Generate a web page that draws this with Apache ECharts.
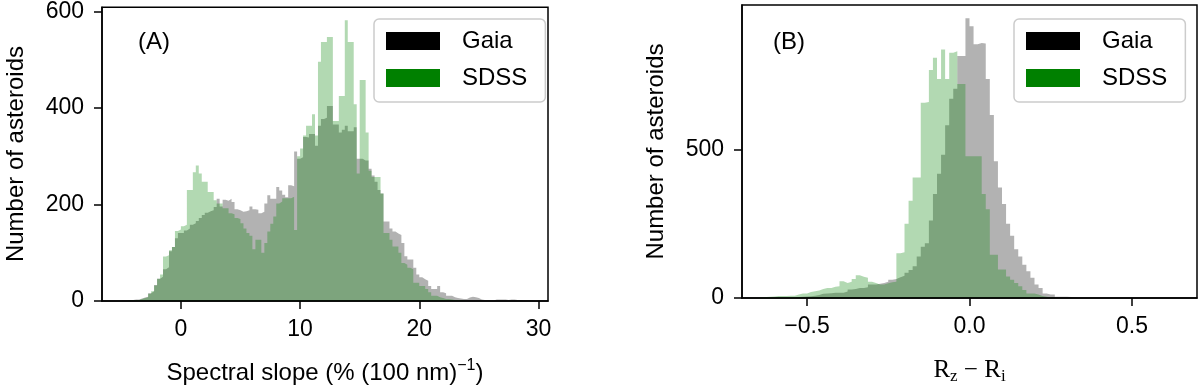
<!DOCTYPE html>
<html>
<head>
<meta charset="utf-8">
<script src="https://cdn.jsdelivr.net/npm/echarts@6/dist/echarts.min.js"></script>
<style>
  html, body { margin: 0; padding: 0; background: #fff; }
  #chart { width: 1200px; height: 390px; }
</style>
</head>
<body>
<div id="chart"></div>
<script>
// (A) spectral slope histograms, bins of 0.25 starting at -5
const slopeStart = -5;
const slopeWidth = 0.25;
const slopeGaia = [
  1, 1, 2, 2, 3, 3, 5, 7, 9, 16,
  20, 33, 46, 50, 66, 70, 103, 112, 130, 141,
  141, 146, 150, 158, 161, 166, 172, 178, 183, 186,
  188, 195, 212, 196, 210, 208, 212, 205, 190, 188,
  185, 186, 188, 196, 190, 189, 182, 185, 202, 219,
  212, 212, 236, 229, 220, 215, 240, 238, 310, 295,
  298, 340, 339, 346, 346, 322, 363, 377, 380, 404,
  404, 366, 366, 349, 355, 363, 352, 352, 360, 295,
  295, 291, 291, 274, 260, 247, 230, 223, 165, 165,
  150, 144, 140, 137, 120, 93, 86, 86, 69, 55,
  49, 45, 42, 31, 25, 25, 31, 18, 16, 11,
  11, 8, 6, 5, 4, 4, 7, 9, 8, 6,
  3, 2, 2, 1, 1, 3, 3, 3, 3, 2,
  3, 3, 2, 2, 1, 1, 1, 1, 0, 0
];
const slopeSdss = [
  0, 0, 1, 1, 2, 2, 4, 6, 8, 15,
  20, 32, 46, 55, 92, 95, 105, 112, 145, 148,
  155, 158, 230, 230, 267, 281, 264, 247, 247, 226,
  226, 209, 202, 202, 192, 192, 182, 180, 172, 170,
  161, 150, 141, 135, 107, 127, 127, 100, 120, 144,
  160, 175, 202, 206, 213, 213, 213, 216, 147, 300,
  316, 343, 363, 363, 387, 343, 496, 537, 537, 547,
  547, 373, 373, 425, 425, 582, 537, 537, 408, 264,
  458, 458, 349, 270, 257, 257, 257, 223, 141, 141,
  127, 113, 113, 100, 79, 75, 69, 66, 38, 38,
  31, 31, 25, 18, 11, 11, 8, 6, 4, 4,
  3, 2, 2, 1, 1, 0, 0, 0, 0, 0,
  0, 0, 0, 0, 0, 0, 0, 0, 0, 0,
  0, 0, 0, 0, 0, 0, 0, 0, 0, 0
];
const slopeTicks = [0, 10, 20, 30];
const slopeCountTicks = [0, 200, 400, 600];

// (B) Rz - Ri histograms, bins of 0.0125 starting at -0.65
const colorStart = -0.65;
const colorWidth = 0.0125;
const colorGaia = [
  0, 0, 0, 0, 1, 1, 1, 1, 2, 3,
  4, 5, 6, 8, 10, 14, 15, 16, 18, 18,
  18, 22, 29, 30, 34, 34, 36, 46, 46, 48,
  51, 55, 62, 64, 70, 75, 85, 95, 107, 140,
  173, 185, 262, 351, 420, 484, 584, 673, 707, 818,
  818, 945, 918, 857, 862, 860, 740, 618, 462, 373,
  318, 251, 210, 165, 140, 112, 90, 68, 46, 34,
  15, 12, 12, 4, 4, 4, 3, 2, 1, 0
];
const colorSdss = [
  1, 3, 4, 5, 7, 7, 7, 8, 8, 12,
  15, 15, 20, 23, 25, 30, 34, 34, 38, 40,
  57, 51, 55, 64, 77, 72, 68, 55, 51, 46,
  46, 50, 53, 55, 151, 155, 251, 329, 407, 407,
  660, 662, 770, 812, 740, 840, 740, 829, 834, 723,
  723, 479, 479, 479, 479, 351, 300, 146, 146, 96,
  96, 73, 62, 51, 40, 27, 15, 15, 12, 7,
  4, 2, 1, 0, 0, 0, 0, 0, 0, 0
];
const colorTicks = [-0.5, 0, 0.5];
const colorCountTicks = [0, 500];

const FONT = 'Liberation Sans';

// step outline points: left bin edge + count, closed at the last right edge
function steps(start, width, counts) {
  const pts = counts.map((c, i) => [start + i * width, c]);
  pts.push([start + counts.length * width, 0]);
  return pts;
}

function hist(name, data, idx, color) {
  return {
    type: 'line',
    name: name,
    xAxisIndex: idx,
    yAxisIndex: idx,
    data: data,
    step: 'end',
    symbol: 'none',
    silent: true,
    lineStyle: { width: 0, opacity: 0 },
    itemStyle: { color: color },
    areaStyle: { color: color, opacity: 0.3 }
  };
}

function xAxis(idx, min, max, ticks, fmt, name, rich) {
  return {
    type: 'value', gridIndex: idx, min: min, max: max, z: 5,
    axisLine: { show: true, onZero: false, lineStyle: { color: '#000', width: 1.5 } },
    axisTick: { show: true, length: 8, customValues: ticks, lineStyle: { color: '#000', width: 1.5 } },
    axisLabel: { customValues: ticks, formatter: fmt, margin: 17, color: '#000', fontFamily: FONT, fontSize: 23 },
    splitLine: { show: false },
    name: name, nameLocation: 'middle', nameGap: 57,
    nameTextStyle: { rich: rich }
  };
}

function yAxis(idx, max, ticks) {
  return {
    type: 'value', gridIndex: idx, min: 0, max: max, z: 5,
    axisLine: { show: true, onZero: false, lineStyle: { color: '#000', width: 1.5 } },
    axisTick: { show: true, length: 8, customValues: ticks, lineStyle: { color: '#000', width: 1.5 } },
    axisLabel: { customValues: ticks, margin: 18, color: '#000', fontFamily: FONT, fontSize: 23 },
    splitLine: { show: false },
    name: 'Number of asteroids', nameLocation: 'middle', nameGap: 74,
    nameTextStyle: { color: '#000', fontFamily: FONT, fontSize: 24 }
  };
}

function legend(left) {
  return {
    left: left, top: 19, orient: 'vertical', selectedMode: false,
    data: [
      { name: 'Gaia', icon: 'rect', itemStyle: { color: '#000', opacity: 1 } },
      { name: 'SDSS', icon: 'rect', itemStyle: { color: '#008000', opacity: 1 } }
    ],
    itemWidth: 54, itemHeight: 18, itemGap: 13,
    padding: [10, 18, 12, 12],
    borderColor: '#cccccc', borderWidth: 1.5, borderRadius: 5,
    backgroundColor: 'rgba(255,255,255,0.8)',
    textStyle: { color: '#000', fontFamily: FONT, fontSize: 24, padding: [0, 0, 0, 17] }
  };
}

const chart = echarts.init(document.getElementById('chart'));
chart.setOption({
  animation: false,
  textStyle: { fontFamily: FONT },
  grid: [
    { left: 102, top: 5, width: 446, height: 297, show: true, borderColor: '#000', borderWidth: 1.5 },
    { left: 742, top: 5, width: 455, height: 297, show: true, borderColor: '#000', borderWidth: 1.5 }
  ],
  xAxis: [
    xAxis(0, -6.62, 30.8, slopeTicks, v => String(v),
      '{t|Spectral slope (% (100 nm)}{sup|\u22121}{t|)}',
      {
        t: { fontFamily: FONT, fontSize: 24, color: '#000', lineHeight: 30 },
        sup: { fontFamily: FONT, fontSize: 16, color: '#000', verticalAlign: 'top', lineHeight: 16 }
      }),
    xAxis(1, -0.7, 0.7, colorTicks,
      v => (v < 0 ? '\u2212' : '') + Math.abs(v).toFixed(1),
      '{r|R}{s|z}{r| \u2212 R}{s|i}',
      {
        r: { fontFamily: 'Liberation Serif', fontSize: 25, color: '#000', lineHeight: 30 },
        s: { fontFamily: 'Liberation Serif', fontSize: 17, color: '#000', verticalAlign: 'bottom', lineHeight: 17 }
      })
  ],
  yAxis: [
    yAxis(0, 609, slopeCountTicks),
    yAxis(1, 990, colorCountTicks)
  ],
  legend: [legend(374), legend(1014)],
  graphic: [
    { type: 'text', x: 138, y: 42, style: { text: '(A)', fontFamily: FONT, fontSize: 24, fill: '#000', verticalAlign: 'middle' } },
    { type: 'text', x: 773, y: 42, style: { text: '(B)', fontFamily: FONT, fontSize: 24, fill: '#000', verticalAlign: 'middle' } }
  ],
  series: [
    hist('Gaia', steps(slopeStart, slopeWidth, slopeGaia), 0, '#000'),
    hist('SDSS', steps(slopeStart, slopeWidth, slopeSdss), 0, '#008000'),
    hist('Gaia', steps(colorStart, colorWidth, colorGaia), 1, '#000'),
    hist('SDSS', steps(colorStart, colorWidth, colorSdss), 1, '#008000')
  ]
});

window.addEventListener('resize', function () {
  chart.resize();
});
</script>
</body>
</html>
